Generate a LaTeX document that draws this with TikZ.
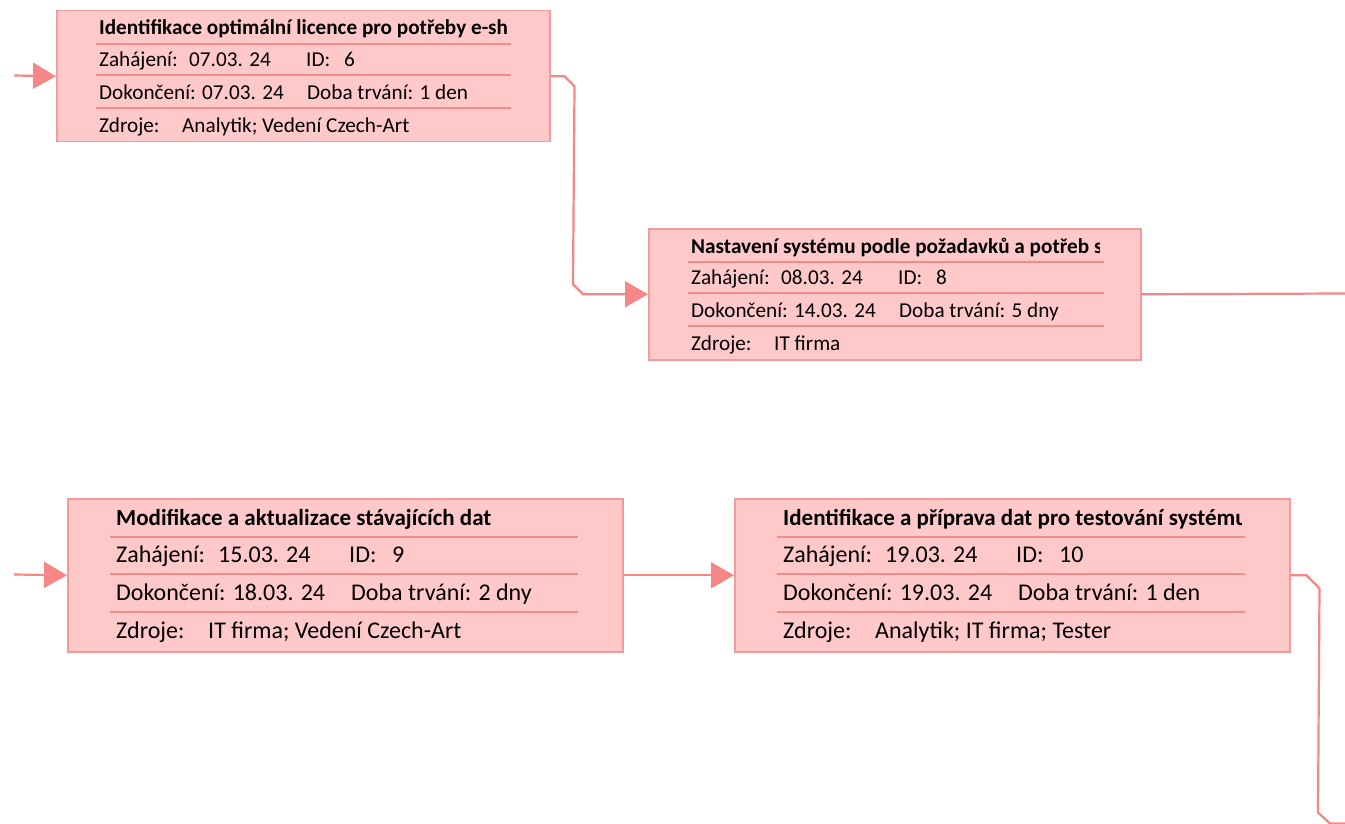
\documentclass[tikz,border=0pt]{standalone}
\usepackage{fontspec}
\setmainfont{Carlito}
\usetikzlibrary{arrows.meta}
\definecolor{boxfill}{RGB}{255,201,201}
\definecolor{boxline}{RGB}{243,155,155}
\definecolor{sepline}{RGB}{240,140,140}
\definecolor{connline}{RGB}{245,135,135}
\begin{document}
\begin{tikzpicture}[x=1pt,y=-1pt,
  taskbox/.style={draw=boxline, fill=boxfill, line width=1.5pt, rectangle, inner sep=0pt, anchor=north west},
  sepl/.style={draw=sepline, line width=1.5pt},
  conn/.style={draw=connline, line width=2.2pt},
  arr/.style={-{Triangle[length=23pt,width=26pt]}},
  smalltxt/.style={font=\fontsize{21.2}{24}\selectfont, anchor=base west, inner sep=0pt, text=black},
  smalltitle/.style={font=\fontsize{21.2}{24}\selectfont\bfseries, anchor=base west, inner sep=0pt, text=black},
  bigtxt/.style={font=\fontsize{24}{28}\selectfont, anchor=base west, inner sep=0pt, text=black},
  bigtitle/.style={font=\fontsize{23}{28}\selectfont\bfseries, anchor=base west, inner sep=0pt, text=black}
]
\useasboundingbox (0,0) rectangle (1345,824);

% ---------- boxes ----------
\node[taskbox, minimum width=493pt, minimum height=131pt] (b1) at (56,10) {};
\node[taskbox, minimum width=492pt, minimum height=131pt] (b2) at (648,228) {};
\node[taskbox, minimum width=555pt, minimum height=153pt] (b3) at (67,498) {};
\node[taskbox, minimum width=555pt, minimum height=153pt] (b4) at (734,498) {};

% ---------- separators ----------
\foreach \y in {44,75,108} {\draw[sepl] (96,\y) -- (511,\y);}
\foreach \y in {262,293,326} {\draw[sepl] (688,\y) -- (1104,\y);}
\foreach \y in {537,574,612} {\draw[sepl] (110,\y) -- (578,\y);}
\foreach \y in {537,574,612} {\draw[sepl] (777,\y) -- (1245,\y);}

% ---------- box 1 ----------
\begin{scope}
  \clip (56,10) rectangle (506,42);
  \node[smalltitle] (t1) at (99,35) {Identifikace optimální licence pro potřeby e-shopu};
\end{scope}
\node[smalltxt] (z1) at (99,66.7) {Zahájení:};
\node[smalltxt] (z1v) at (189,66.7) {07.03. 24};
\node[smalltxt] (i1) at (306,66.7) {ID:};
\node[smalltxt] (i1v) at (344,66.7) {6};
\node[smalltxt] (d1) at (99,99.7) {Dokončení: 07.03. 24};
\node[smalltxt] (o1) at (307,99.7) {Doba trvání: 1 den};
\node[smalltxt] (r1) at (99,132.7) {Zdroje:};
\node[smalltxt] (r1v) at (182,132.7) {Analytik; Vedení Czech-Art};

% ---------- box 2 ----------
\begin{scope}
  \clip (648,228) rectangle (1099,260);
  \node[smalltitle] (t2) at (691,253) {Nastavení systému podle požadavků a potřeb společnosti};
\end{scope}
\node[smalltxt] (z2) at (691,284.7) {Zahájení:};
\node[smalltxt] (z2v) at (781,284.7) {08.03. 24};
\node[smalltxt] (i2) at (898,284.7) {ID:};
\node[smalltxt] (i2v) at (936,284.7) {8};
\node[smalltxt] (d2) at (691,317.7) {Dokončení: 14.03. 24};
\node[smalltxt] (o2) at (899,317.7) {Doba trvání: 5 dny};
\node[smalltxt] (r2) at (691,350.7) {Zdroje:};
\node[smalltxt] (r2v) at (774,350.7) {IT firma};

% ---------- box 3 ----------
\node[bigtitle] (t3) at (116,525) {Modifikace a aktualizace stávajících dat};
\node[bigtxt] (z3) at (116,562) {Zahájení:};
\node[bigtxt] (z3v) at (218,562) {15.03. 24};
\node[bigtxt] (i3) at (349,562) {ID:};
\node[bigtxt] (i3v) at (392,562) {9};
\node[bigtxt] (d3) at (116,600) {Dokončení: 18.03. 24};
\node[bigtxt] (o3) at (351,600) {Doba trvání: 2 dny};
\node[bigtxt] (r3) at (116,638) {Zdroje:};
\node[bigtxt] (r3v) at (208,638) {IT firma; Vedení Czech-Art};

% ---------- box 4 ----------
\begin{scope}
  \clip (734,498) rectangle (1241,535);
  \node[bigtitle] (t4) at (783,525) {Identifikace a příprava dat pro testování systému};
\end{scope}
\node[bigtxt] (z4) at (783,562) {Zahájení:};
\node[bigtxt] (z4v) at (885,562) {19.03. 24};
\node[bigtxt] (i4) at (1016,562) {ID:};
\node[bigtxt] (i4v) at (1059,562) {10};
\node[bigtxt] (d4) at (783,600) {Dokončení: 19.03. 24};
\node[bigtxt] (o4) at (1018,600) {Doba trvání: 1 den};
\node[bigtxt] (r4) at (783,638) {Zdroje:};
\node[bigtxt] (r4v) at (875,638) {Analytik; IT firma; Tester};

% ---------- connectors ----------
\coordinate (s1) at (14,75.5);
\coordinate (s3) at (14,574.5);
\coordinate (c12) at (573,0);
\coordinate (e2) at (1345,293.5);
\coordinate (c4) at (1318,0);
\coordinate (e4) at (1346,823.5);

\draw[conn, arr] (s1) -- (b1.west);
\draw[conn, arr] (b1.east) -- ++(14,0) -- ++(10,10) -- ([yshift=10pt]b2.west -| c12) -- ++(10,10) -- (b2.west);
\draw[conn] (b2.east) -- (e2);
\draw[conn, arr] (s3) -- (b3.west);
\draw[conn, arr] (b3.east) -- (b4.west);
\draw[conn] (b4.east) -- ++(16,0) -- ++(13,13) -- ([yshift=11pt]e4 -| c4) -- ++(12,11) -- (e4);
\end{tikzpicture}
\end{document}
